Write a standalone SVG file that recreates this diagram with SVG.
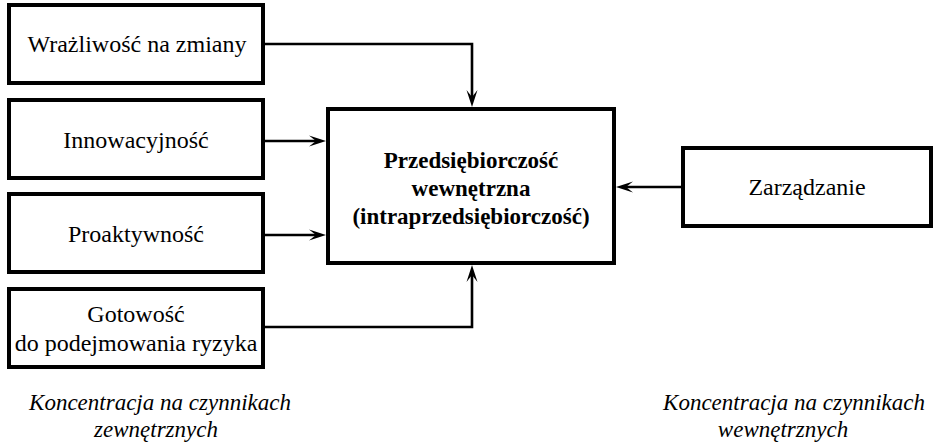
<svg xmlns="http://www.w3.org/2000/svg" width="935" height="446" viewBox="0 0 935 446">
  <rect width="935" height="446" fill="#fff"/>

  <g id="connectors">
    <g fill="none" stroke="#000" stroke-width="2.6">
      <polyline points="264,44 472,44 472,100"/>
      <polyline points="264,141 320,141"/>
      <polyline points="264,235 320,235"/>
      <polyline points="264,327 472,327 472,272"/>
      <polyline points="682,187 622,187"/>
    </g>
    <!-- barbed arrowheads, tips touching the target boxes -->
    <g fill="#000">
      <polygon points="472,107 466.5,90 472,97 477.5,90"/>
      <polygon points="326,141 309,135.5 316,141 309,146.5"/>
      <polygon points="326,235 309,229.5 316,235 309,240.5"/>
      <polygon points="472,265 466.5,282 472,275 477.5,282"/>
      <polygon points="616,187 633,181.5 626,187 633,192.5"/>
    </g>
  </g>

  <g id="nodes" font-family="'Liberation Serif', serif" text-anchor="middle">
    <g id="n-wrazliwosc" font-size="24">
      <rect x="9" y="5" width="254" height="78" fill="#fff" stroke="#000" stroke-width="4"/>
      <text x="137" y="52">Wrażliwość na zmiany</text>
    </g>
    <g id="n-innowacyjnosc" font-size="24">
      <rect x="9" y="100" width="254" height="78" fill="#fff" stroke="#000" stroke-width="4"/>
      <text x="136" y="148">Innowacyjność</text>
    </g>
    <g id="n-proaktywnosc" font-size="24">
      <rect x="9" y="194" width="254" height="78" fill="#fff" stroke="#000" stroke-width="4"/>
      <text x="136" y="242">Proaktywność</text>
    </g>
    <g id="n-gotowosc" font-size="24">
      <rect x="9" y="289" width="254" height="78" fill="#fff" stroke="#000" stroke-width="4"/>
      <text x="136" y="322">Gotowość</text>
      <text x="136" y="351">do podejmowania ryzyka</text>
    </g>
    <g id="n-przedsiebiorczosc" font-size="23" font-weight="bold">
      <rect x="328" y="109" width="286" height="154" fill="#fff" stroke="#000" stroke-width="4"/>
      <text x="471" y="168">Przedsiębiorczość</text>
      <text x="471" y="196">wewnętrzna</text>
      <text x="471" y="224">(intraprzedsiębiorczość)</text>
    </g>
    <g id="n-zarzadzanie" font-size="24">
      <rect x="683" y="148" width="248" height="78" fill="#fff" stroke="#000" stroke-width="4"/>
      <text x="807" y="195">Zarządzanie</text>
    </g>
  </g>

  <g id="notes" font-family="'Liberation Serif', serif" text-anchor="middle" font-size="23" font-style="italic">
    <text x="160" y="410">Koncentracja na czynnikach</text>
    <text x="156" y="437">zewnętrznych</text>
    <text x="794" y="410">Koncentracja na czynnikach</text>
    <text x="783" y="437">wewnętrznych</text>
  </g>
</svg>
